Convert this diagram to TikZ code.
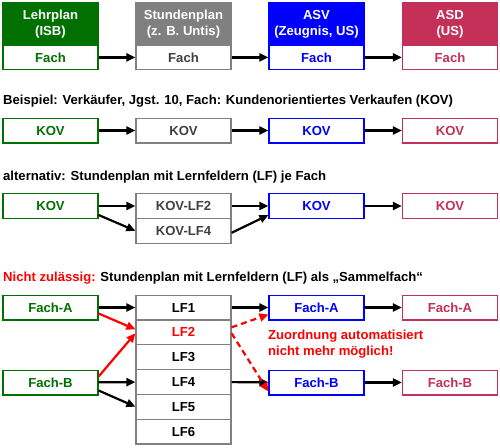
\documentclass[tikz,border=0pt]{standalone}
\usepackage{fontspec}
\setmainfont{Liberation Sans}
\usetikzlibrary{positioning, arrows.meta}

\definecolor{isbgreen}{RGB}{0,112,0}
\definecolor{untisgray}{RGB}{128,128,128}
\definecolor{untistext}{RGB}{64,64,64}
\definecolor{asvblue}{RGB}{0,0,255}
\definecolor{asdred}{RGB}{196,48,88}

\tikzset{
  cell/.style={draw=#1, text=#1, line width=1.2pt, fill=white,
    minimum width=95pt, minimum height=24.8pt, inner sep=0pt},
  head/.style={draw=#1, fill=#1, text=white, line width=1.2pt,
    minimum width=95pt, minimum height=42pt, inner sep=0pt, align=center},
  title/.style={anchor=west, inner sep=0pt},
  flow/.style={-{Triangle[length=9pt,width=8pt]}, line width=2.2pt},
  bad/.style={flow, red},
}

\begin{document}
\begin{tikzpicture}[x=1pt, y=-1pt, node distance=-1.2pt,
  font=\fontsize{13.1}{16}\selectfont\bfseries]
\useasboundingbox (0,0) rectangle (500,447);

% Kopfzeile
\node[head=isbgreen] (lehrplan) at (50.5,24) {Lehrplan\\(ISB)};
\node[head=untisgray] (stdplan) at (183.5,24) {Stundenplan\\(z. B. Untis)};
\node[head=asvblue] (asv) at (316.5,24) {ASV\\(Zeugnis, US)};
\node[head=asdred] (asd) at (450,24) {ASD\\(US)};
\node[cell=isbgreen, below=of lehrplan] (fach1) {Fach};
\node[cell=untisgray, text=untistext, below=of stdplan] (fach2) {Fach};
\node[cell=asvblue, below=of asv] (fach3) {Fach};
\node[cell=asdred, below=of asd] (fach4) {Fach};
\draw[flow] (fach1) -- (fach2);
\draw[flow] (fach2) -- (fach3);
\draw[flow] (fach3) -- (fach4);

% Beispiel
\node[title] (bsp) at (3,101) {Beispiel: Verkäufer, Jgst. 10, Fach: Kundenorientiertes Verkaufen (KOV)};
\node[cell=isbgreen] (kov1) at (50.5,130.5) {KOV};
\node[cell=untisgray, text=untistext] (kov2) at (183.5,130.5) {KOV};
\node[cell=asvblue] (kov3) at (316.5,130.5) {KOV};
\node[cell=asdred] (kov4) at (450,130.5) {KOV};
\draw[flow] (kov1) -- (kov2);
\draw[flow] (kov2) -- (kov3);
\draw[flow] (kov3) -- (kov4);

% alternativ
\node[title] (alt) at (3,177) {alternativ: Stundenplan mit Lernfeldern (LF) je Fach};
\node[cell=isbgreen] (akov1) at (50.5,206) {KOV};
\node[cell=untisgray, text=untistext] (alf2) at (183.5,206) {KOV-LF2};
\node[cell=untisgray, text=untistext, below=of alf2] (alf4) {KOV-LF4};
\node[cell=asvblue] (akov3) at (316.5,206) {KOV};
\node[cell=asdred] (akov4) at (450,206) {KOV};
\draw[flow] (akov1) -- (alf2);
\draw[flow] ([yshift=-9pt]akov1.east) -- (alf4.west);
\draw[flow] (alf2) -- (akov3);
\draw[flow] ([yshift=-2pt]alf4.east) -- ([yshift=-9pt]akov3.west);
\draw[flow] (akov3) -- (akov4);

% nicht zulaessig
\node[title] (nz) at (3,278) {\textcolor{red}{Nicht zulässig:} Stundenplan mit Lernfeldern (LF) als „Sammelfach“};
\node[cell=isbgreen] (fa1) at (50.5,307.5) {Fach-A};
\node[cell=isbgreen] (fb1) at (50.5,382.5) {Fach-B};
\node[cell=untisgray, text=black] (lf1) at (183.5,307.5) {LF1};
\node[cell=untisgray, text=red, below=of lf1] (lf2) {LF2};
\node[cell=untisgray, text=black, below=of lf2] (lf3) {LF3};
\node[cell=untisgray, text=black, below=of lf3] (lf4) {LF4};
\node[cell=untisgray, text=black, below=of lf4] (lf5) {LF5};
\node[cell=untisgray, text=black, below=of lf5] (lf6) {LF6};
\node[cell=asvblue] (fa3) at (316.5,307.5) {Fach-A};
\node[cell=asvblue] (fb3) at (316.5,382.5) {Fach-B};
\node[cell=asdred] (fa4) at (450,307.5) {Fach-A};
\node[cell=asdred] (fb4) at (450,382.5) {Fach-B};
\node[anchor=west, align=left, text=red, inner sep=0pt] (hinweis) at (268,344.5)
  {Zuordnung automatisiert\\nicht mehr möglich!};

\draw[flow] (fa1) -- (lf1);
\draw[bad] ([yshift=-6pt]fa1.east) -- ([yshift=3pt]lf2.west);
\draw[bad] ([yshift=6pt]fb1.east) -- ([yshift=-1pt]lf2.west);
\draw[flow] (fb1) -- (lf4);
\draw[flow] ([yshift=-8pt]fb1.east) -- (lf5.west);
\draw[flow] (lf1) -- (fa3);
\draw[flow] (lf4) -- (fb3);
\draw[bad, dash pattern=on 6pt off 4pt] ([yshift=5pt]lf2.east) -- ([yshift=-7pt]fa3.west);
\draw[bad, dash pattern=on 6pt off 4pt] ([yshift=-1pt]lf2.east) -- ([yshift=-9pt]fb3.west);
\draw[flow] (fa3) -- (fa4);
\draw[flow] (fb3) -- (fb4);
\end{tikzpicture}
\end{document}
